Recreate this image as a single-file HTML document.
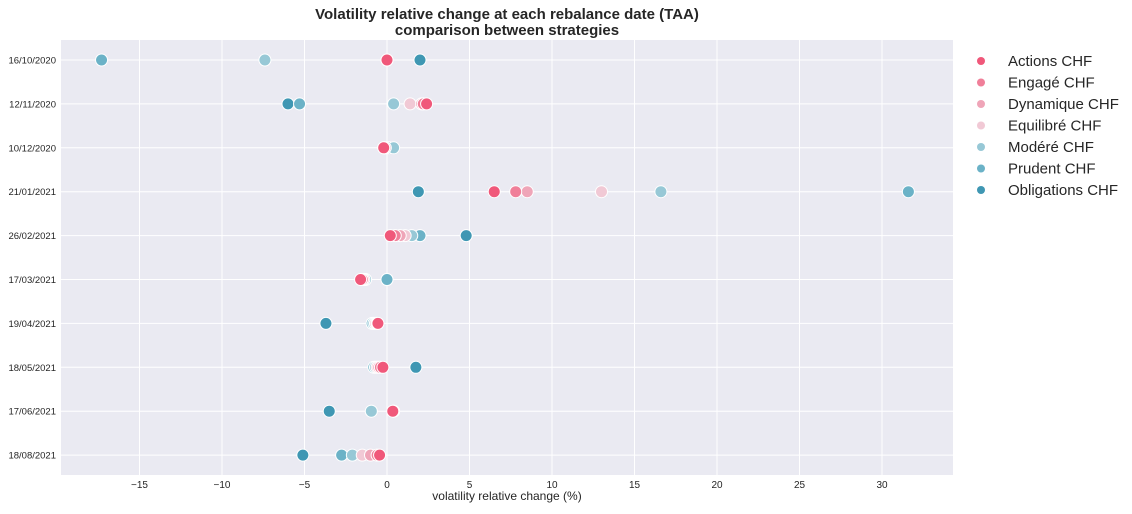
<!DOCTYPE html>
<html><head><meta charset="utf-8"><style>
body{margin:0;background:#fff;}
svg text{font-family:"Liberation Sans",Arial,sans-serif;fill:#262626;}
</style></head><body>
<svg id="chart" width="1132" height="509">
<rect x="61" y="40" width="892" height="435" fill="#eaeaf2"/>
<g id="grid"></g><g id="marks"></g><g id="axes"></g><g id="legend"></g>
<text x="507" y="19" text-anchor="middle" font-size="15" font-weight="bold">Volatility relative change at each rebalance date (TAA)</text>
<text x="507" y="35" text-anchor="middle" font-size="15" font-weight="bold">comparison between strategies</text>
<text x="507" y="500" text-anchor="middle" font-size="12">volatility relative change (%)</text>
</svg>
<script>
const dates=["16/10/2020","12/11/2020","10/12/2020","21/01/2021","26/02/2021","17/03/2021","19/04/2021","18/05/2021","17/06/2021","18/08/2021"];
const seriesNames=["Actions CHF","Engagé CHF","Dynamique CHF","Equilibré CHF","Modéré CHF","Prudent CHF","Obligations CHF"];
const colors=["#f0587a","#f07f99","#efa5b8","#f1c9d5","#97c8d6","#6bb2c7","#3f97b3"];
const actions=[0.0,2.4,-0.2,6.5,0.2,-1.6,-0.55,-0.25,0.35,-0.45];
const engage=[0.0,2.2,-0.2,7.8,0.5,-1.5,-0.6,-0.4,0.4,-0.6];
const dynamique=[0.0,2.1,-0.2,8.5,0.8,-1.5,-0.6,-0.5,0.4,-1.0];
const equilibre=[0.0,1.4,-0.1,13.0,1.1,-1.4,-0.7,-0.6,0.4,-1.5];
const modere=[-7.4,0.4,0.4,16.6,1.5,-1.3,-0.8,-0.7,-0.95,-2.1];
const prudent=[-17.3,-5.3,0.1,31.6,2.0,0.0,-0.9,-0.8,-0.95,-2.75];
const obligations=[2.0,-6.0,-0.1,1.9,4.8,0.0,-3.7,1.75,-3.5,-5.1];
const xTicks=[-15,-10,-5,0,5,10,15,20,25,30];
const series=[actions,engage,dynamique,equilibre,modere,prudent,obligations];
const NS="http://www.w3.org/2000/svg";
const X=v=>387+v*16.5;
const Y=i=>60+i*43.9;
function mk(t,a,p){const e=document.createElementNS(NS,t);for(const k in a)e.setAttribute(k,a[k]);p.appendChild(e);return e;}
const grid=document.getElementById('grid'),axes=document.getElementById('axes'),marks=document.getElementById('marks'),legend=document.getElementById('legend');
xTicks.forEach(v=>{
 const l=mk('line',{x1:X(v),x2:X(v),y1:40,y2:475,stroke:'#fff','stroke-width':1},grid);
 
 
 const t=mk('text',{x:X(v),y:488,'text-anchor':'middle','font-size':10},axes);t.textContent=v<0?'\u2212'+(-v):v;
 
 
});
dates.forEach((d,i)=>{
 const l=mk('line',{x1:61,x2:953,y1:Y(i),y2:Y(i),stroke:'#fff','stroke-width':1},grid);
 
 
 const t=mk('text',{x:56,y:Y(i)+3.5,'text-anchor':'end','font-size':9.5},axes);t.textContent=d;
 
 
});
for(let s=series.length-1;s>=0;s--){
 series[s].forEach((v,i)=>{
  const c=mk('circle',{cx:X(v),cy:Y(i),r:6,fill:colors[s],stroke:'#fff','stroke-width':1},marks);
  
  
 });
}
seriesNames.forEach((n,s)=>{
 const y=60+s*21.5;
 const c=mk('circle',{cx:981,cy:y+1,r:4,fill:colors[s]},legend);
 
 
 const t=mk('text',{x:1008,y:y+6,'font-size':15},legend);t.textContent=n;
 
 
});
</script>
</body></html>
